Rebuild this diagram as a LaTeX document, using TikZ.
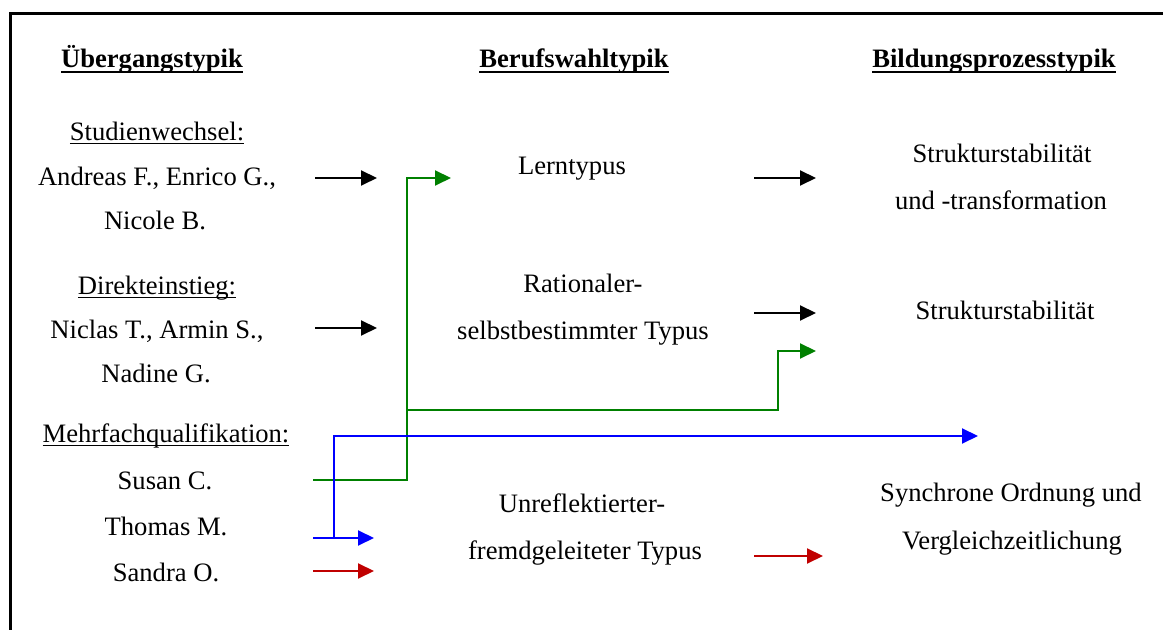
\documentclass[tikz,border=0pt]{standalone}
\usepackage{fontspec}
\setmainfont{Liberation Serif}
\usetikzlibrary{arrows.meta}
\definecolor{pgreen}{RGB}{0,128,0}
\definecolor{pblue}{RGB}{0,0,255}
\definecolor{pred}{RGB}{192,0,0}
\newcommand{\hd}[1]{{\bfseries\setbox0\hbox{#1}\rlap{\rule[-2.7pt]{\wd0}{1.4pt}}\box0}}
\newcommand{\ulsub}[1]{{\setbox0\hbox{#1}\rlap{\rule[-1.7pt]{\wd0}{0.9pt}}\box0}}
\begin{document}
\begin{tikzpicture}[x=0.5pt,y=-0.5pt,
    font=\fontsize{13.3pt}{16pt}\selectfont,
    txt/.style={anchor=base,inner sep=0pt},
    arr/.style={-{Triangle[length=8pt,width=7.5pt]},line width=1pt}]
    \useasboundingbox (0,0) rectangle (1163,630);
    \draw[line width=1.5pt] (1163,14) -- (10,14) -- (10,630);
    \path (152,68) node[txt] (h1) {\hd{Übergangstypik}}
        (574,68) node[txt] (h2) {\hd{Berufswahltypik}}
        (994,68) node[txt] (h3) {\hd{Bildungsprozesstypik}};
    \begin{scope}
        \path (157,141) node[txt] (u1) {\ulsub{Studienwechsel:}}
            (157,186) node[txt] (u2) {Andreas F., Enrico G.,}
            (155,230) node[txt] (u3) {Nicole B.}
            (157,295) node[txt] (u4) {\ulsub{Direkteinstieg:}}
            (157,339) node[txt] (u5) {Niclas T., Armin S.,}
            (156,383) node[txt] (u6) {Nadine G.}
            (166,443) node[txt] (u7) {\ulsub{Mehrfachqualifikation:}}
            (165,490) node[txt] (u8) {Susan C.}
            (166,536) node[txt] (u9) {Thomas M.}
            (166,582) node[txt] (u10) {Sandra O.};
    \end{scope}
    \begin{scope}
        \path (572,175) node[txt] (b1) {Lerntypus}
            (583,293) node[txt] (b2) {Rationaler-}
            (583,340) node[txt] (b3) {selbstbestimmter Typus}
            (582,513) node[txt] (b4) {Unreflektierter-}
            (585,560) node[txt] (b5) {fremdgeleiteter Typus};
    \end{scope}
    \begin{scope}
        \path (1002,163) node[txt] (p1) {Strukturstabilität}
            (1001,210) node[txt] (p2) {und -transformation}
            (1005,320) node[txt] (p3) {Strukturstabilität}
            (1011,502) node[txt] (p4) {Synchrone Ordnung und}
            (1012,550) node[txt] (p5) {Vergleichzeitlichung};
    \end{scope}
    \coordinate (ka) at (315,178);
    \coordinate (kb) at (377,178);
    \coordinate (kc) at (315,328);
    \coordinate (kd) at (377,328);
    \coordinate (ke) at (754,178);
    \coordinate (kf) at (816,178);
    \coordinate (kg) at (754,313);
    \coordinate (kh) at (816,313);
    \draw[arr] (ka) -- (kb);
    \draw[arr] (kc) -- (kd);
    \draw[arr] (ke) -- (kf);
    \draw[arr] (kg) -- (kh);
    \coordinate (gs) at (313,480);
    \coordinate (gv) at (407,178);
    \coordinate (gt) at (451,178);
    \coordinate (gj) at (407,410);
    \coordinate (gk) at (778,351);
    \coordinate (gu) at (816,351);
    \draw[arr,pgreen] (gs) -| (gv) -- (gt);
    \draw[arr,pgreen] (gj) -| (gk) -- (gu);
    \coordinate (bs) at (313,538);
    \coordinate (bt) at (374,538);
    \coordinate (bj) at (334,538);
    \coordinate (bu) at (978,436);
    \draw[arr,pblue] (bs) -- (bt);
    \draw[arr,pblue] (bj) |- (bu);
    \coordinate (rs) at (313,571);
    \coordinate (rt) at (374,571);
    \coordinate (ru) at (754,556);
    \coordinate (rv) at (823,556);
    \draw[arr,pred] (rs) -- (rt);
    \draw[arr,pred] (ru) -- (rv);
\end{tikzpicture}
\end{document}
